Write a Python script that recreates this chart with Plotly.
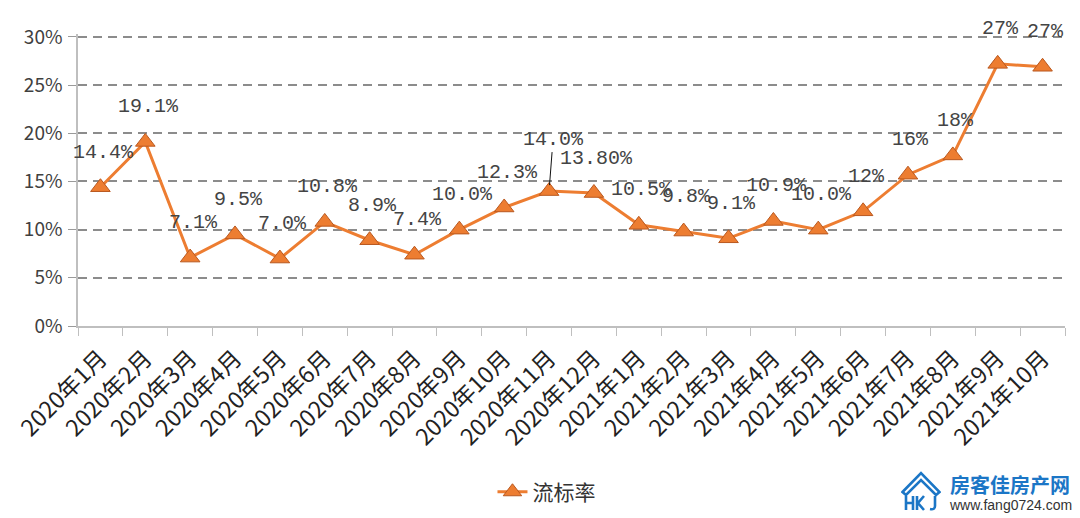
import base64
import plotly.graph_objects as go

# ---------------- data ----------------
months = ["2020年1月", "2020年2月", "2020年3月", "2020年4月", "2020年5月", "2020年6月",
          "2020年7月", "2020年8月", "2020年9月", "2020年10月", "2020年11月", "2020年12月",
          "2021年1月", "2021年2月", "2021年3月", "2021年4月", "2021年5月", "2021年6月",
          "2021年7月", "2021年8月", "2021年9月", "2021年10月"]
rates = [14.4, 19.1, 7.1, 9.5, 7.0, 10.8, 8.9, 7.4, 10.0, 12.3, 14.0, 13.8,
         10.5, 9.8, 9.1, 10.9, 10.0, 11.9, 15.7, 17.7, 27.2, 26.9]
rate_labels = ["14.4%", "19.1%", "7.1%", "9.5%", "7.0%", "10.8%", "8.9%", "7.4%",
               "10.0%", "12.3%", "14.0%", "13.80%", "10.5%", "9.8%", "9.1%", "10.9%",
               "10.0%", "12%", "16%", "18%", "27%", "27%"]
y_tick_vals = [0, 5, 10, 15, 20, 25, 30]
y_tick_text = ["0%", "5%", "10%", "15%", "20%", "25%", "30%"]
series_name = "流标率"
brand_name = "房客佳房产网"
brand_url = "www.fang0724.com"

ORANGE = "#ED7D31"
CJK = "Noto Sans CJK SC"
Y_TOP = 30.3

fig = go.Figure()
fig.add_trace(go.Scatter(
    x=months, y=rates, mode="lines+markers", name=series_name,
    line=dict(color=ORANGE, width=3),
    marker=dict(symbol="triangle-up", size=17, color=ORANGE,
                line=dict(color="#B9581F", width=1)),
    cliponaxis=False,
))

annotations = []
for m, v, t in zip(months, rates, rate_labels):
    if t == "14.0%":
        annotations.append(dict(
            x=m, y=v, text=t, showarrow=True, ax=4, ay=-52,
            arrowhead=0, arrowwidth=1, arrowcolor="#111", standoff=6,
            font=dict(family="Liberation Mono", size=20, color="#444444")))
    else:
        annotations.append(dict(
            x=m, y=v, text=t, showarrow=False, yshift=35, xshift=3,
            font=dict(family="Liberation Mono", size=20, color="#444444")))

# watermark (paper coords: x 78..1065 px, y 326..34 px)
PLOT_TOP_PX = 34
def px_x(p):
    return (p - 78) / 987.0

def px_y(p):
    return (326 - p) / (326 - PLOT_TOP_PX)

annotations.append(dict(xref="paper", yref="paper", x=px_x(1010), y=px_y(484),
                        xanchor="center", yanchor="middle",
                        text="<b>" + brand_name + "</b>", showarrow=False,
                        font=dict(family=CJK, size=20, color="#1b76c6")))
annotations.append(dict(xref="paper", yref="paper", x=px_x(1010), y=px_y(505),
                        xanchor="center", yanchor="middle",
                        text=brand_url, showarrow=False,
                        font=dict(family="Liberation Sans", size=14, color="#333333")))

logo_svg = """<svg xmlns='http://www.w3.org/2000/svg' width='40' height='40' viewBox='0 0 40 40'>
<g fill='none' stroke='#1b76c6' stroke-width='2.6' stroke-linejoin='miter' stroke-linecap='butt'>
<path d='M1.5 21 L20 2 L38.5 21 L35 24 L20 9 L5 24 Z'/>
<path d='M5 25 V39 M5 32 H12 M12 25 V39'/>
<path d='M16 25 V39 M23 25 L17 32 L23 39'/>
<path d='M34 25 V35 Q34 39 29 38'/>
</g></svg>"""
logo_src = "data:image/svg+xml;base64," + base64.b64encode(logo_svg.encode("utf-8")).decode("ascii")

fig.update_layout(
    width=1080, height=518,
    margin=dict(l=78, r=15, t=PLOT_TOP_PX, b=192),
    paper_bgcolor="white", plot_bgcolor="white",
    showlegend=True,
    legend=dict(orientation="h", xref="container", yref="container",
                x=0.456, xanchor="left", y=0.05, yanchor="middle",
                font=dict(family=CJK, size=21, color="#333333"),
                bgcolor="rgba(0,0,0,0)"),
    annotations=annotations,
    images=[dict(source=logo_src, xref="paper", yref="paper",
                 x=px_x(901), y=px_y(471), sizex=40 / 987.0, sizey=40 / (326 - PLOT_TOP_PX),
                 xanchor="left", yanchor="top", sizing="stretch", layer="above")],
    xaxis=dict(type="category", range=[-0.5, len(months) - 0.5],
               tickangle=-45, tickfont=dict(family=CJK, size=23, color="#222222"),
               showline=True, linecolor="#bfbfbf", linewidth=1.5,
               ticks="outside", ticklen=8, tickcolor="#bfbfbf", tickson="boundaries",
               ticklabelstandoff=8,
               showgrid=False, zeroline=False, fixedrange=True),
    yaxis=dict(range=[0, Y_TOP], tickvals=y_tick_vals, ticktext=y_tick_text,
               tickfont=dict(family=CJK, size=19, color="#404040"),
               showgrid=True, gridcolor="#8c8c8c", gridwidth=2, griddash="9px,6px",
               showline=True, linecolor="#bfbfbf", linewidth=1.5,
               ticks="outside", ticklen=8, tickcolor="#9a9a9a",
               ticklabelstandoff=2, zeroline=False, fixedrange=True),
)

fig.write_html("out.html")
